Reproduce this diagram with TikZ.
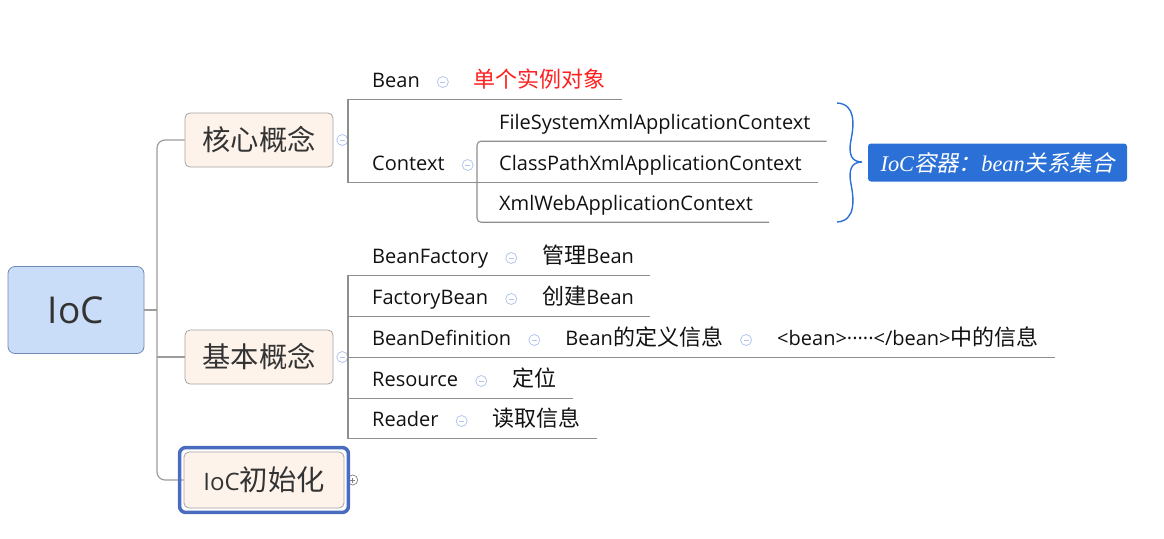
\documentclass[tikz,border=0pt]{standalone}
\usepackage{fontspec}
\setmainfont{Open Sans}
\newfontfamily\cjk[Scale=1.10]{Noto Sans CJK SC}
\newfontfamily\cjkbox[Scale=1.18]{Noto Sans CJK SC}
\newfontfamily\cjkslant[FakeSlant=0.2,Scale=1.12]{Noto Sans CJK SC}
\newfontfamily\notefont[Scale=1.12]{Liberation Serif}
\usetikzlibrary{positioning,calc}

\definecolor{rootfill}{HTML}{C9DCF8}
\definecolor{rootdraw}{HTML}{7089B5}
\definecolor{boxfill}{HTML}{FDF3EB}
\definecolor{boxdraw}{HTML}{A3A3A3}
\definecolor{selblue}{HTML}{4A6CC0}
\definecolor{linkgray}{HTML}{9C9C9C}
\definecolor{ulinegray}{HTML}{8E8E8E}
\definecolor{foldblue}{HTML}{B3C6EA}
\definecolor{noteblue}{HTML}{2B70D6}
\definecolor{boxtext}{HTML}{333333}
\definecolor{topictext}{HTML}{111111}
\definecolor{hotred}{HTML}{FF2020}

\newcommand{\zh}[1]{{\cjk #1}}
\newcommand{\zhb}[1]{{\cjkbox #1}}

\begin{document}
\begin{tikzpicture}[x=1pt, y=-1pt,
    link/.style={draw=linkgray, line width=1.2pt},
    uline/.style={draw=ulinegray, line width=1.1pt},
    rootbox/.style={draw=rootdraw, fill=rootfill, rounded corners=7pt, line width=0.8pt,
        minimum width=136pt, minimum height=87pt, text=boxtext, font=\fontsize{37}{42}\selectfont},
    mainbox/.style={draw=boxdraw, fill=boxfill, rounded corners=5pt, line width=0.8pt,
        minimum width=148pt, minimum height=54pt, text=boxtext, font=\fontsize{24}{28}\selectfont},
    topic/.style={anchor=west, inner sep=0pt, text height=14pt, text depth=4pt,
        text=topictext, font=\fontsize{20}{22}\selectfont},
    fold/.style={circle, draw=foldblue, line width=0.8pt, minimum size=11pt, inner sep=0pt,
        path picture={\draw[foldblue, line width=0.8pt]
            ([xshift=-2.5pt]path picture bounding box.center) -- ([xshift=2.5pt]path picture bounding box.center);}},
    unfold/.style={circle, draw=gray, line width=0.7pt, minimum size=10pt, inner sep=0pt,
        path picture={\draw[gray, line width=0.7pt]
            ([xshift=-2.5pt]path picture bounding box.center) -- ([xshift=2.5pt]path picture bounding box.center)
            ([yshift=-2.5pt]path picture bounding box.center) -- ([yshift=2.5pt]path picture bounding box.center);}},
    note/.style={fill=noteblue, rounded corners=3pt, minimum width=259pt, minimum height=38pt,
        text=white, font=\fontsize{20}{24}\selectfont}
]
    \useasboundingbox (0,0) rectangle (1164,538);

    % Root and main topics
    \node[rootbox] (root) at (76,310) {IoC};
    \node[mainbox] (kern) at (259,140) {\zhb{核心概念}};
    \node[mainbox] (base) at (259,357) {\zhb{基本概念}};
    \node[mainbox, minimum width=160pt, minimum height=56pt] (init) at (264,480) {IoC\zhb{初始化}};
    \node[fold, right=3pt of kern] (kernf) {};
    \node[fold, right=3pt of base] (basef) {};
    \node[unfold, right=3pt of init] (initf) {};

    % Spine
    \coordinate (hub) at (157,310);
    \draw[link] (root.east) -- (hub);
    \draw[link, rounded corners=8pt] (kern.west) -| (hub) |- (init.west);
    \draw[link] (hub |- base.west) -- (base.west);
    \draw[selblue, line width=3.5pt, rounded corners=6pt]
        ([shift={(-4,-4)}]init.north west) rectangle ([shift={(4,4)}]init.south east);

    % 核心概念 children
    \node[topic] (kbean) at (372,82) {Bean};
    \node[fold, right=17pt of kbean] (kbeanf) {};
    \node[topic, right=25pt of kbeanf, text=hotred] (kbeanv) {\zh{单个实例对象}};
    \node[topic] (kctx) at (372,165) {Context};
    \node[fold, right=17pt of kctx] (kctxf) {};

    % Context children
    \node[topic] (cfs) at (499,124) {FileSystemXmlApplicationContext};
    \node[topic] (ccp) at (499,165) {ClassPathXmlApplicationContext};
    \node[topic] (cxw) at (499,205) {XmlWebApplicationContext};

    \draw[uline] ($(kbeanv.south east)+(16,8)$) -- ($(kbean.south west)+(-24,8)$)
        -- ($(kctx.south west)+(-24,8)$) -- ($(ccp.south east)+(16,8)$);
    \draw[uline, rounded corners=4pt] ($(cfs.south east)+(16,8)$) -- ($(cfs.south west)+(-22,8)$)
        -- ($(cxw.south west)+(-22,8)$) -- ($(cxw.south east)+(16,8)$);

    % Brace and note
    \draw[noteblue, line width=1.4pt]
        (837,103) .. controls (856,104) and (854,125) .. (851,140)
        .. controls (848,155) and (852,162) .. (862,162)
        .. controls (852,162) and (848,169) .. (851,184)
        .. controls (854,199) and (856,221) .. (837,222);
    \node[note] (ioc) at (997.5,162.5)
        {{\notefont\itshape IoC}{\cjkslant 容器：}{\notefont\itshape bean}{\cjkslant 关系集合}};

    % 基本概念 children
    \node[topic] (bbf) at (372,258) {BeanFactory};
    \node[fold, right=17pt of bbf] (bbff) {};
    \node[topic, right=25pt of bbff] (bbfv) {\zh{管理}Bean};
    \node[topic] (bfb) at (372,299) {FactoryBean};
    \node[fold, right=17pt of bfb] (bfbf) {};
    \node[topic, right=25pt of bfbf] (bfbv) {\zh{创建}Bean};
    \node[topic] (bbd) at (372,340) {BeanDefinition};
    \node[fold, right=17pt of bbd] (bbdf) {};
    \node[topic, right=25pt of bbdf] (bbdv) {Bean\zh{的定义信息}};
    \node[fold, right=17pt of bbdv] (bbdvf) {};
    \node[topic, right=25pt of bbdvf] (bbdx) {<bean>·····</bean>\zh{中的信息}};
    \node[topic] (brs) at (372,381) {Resource};
    \node[fold, right=17pt of brs] (brsf) {};
    \node[topic, right=25pt of brsf] (brsv) {\zh{定位}};
    \node[topic] (brd) at (372,421) {Reader};
    \node[fold, right=17pt of brd] (brdf) {};
    \node[topic, right=25pt of brdf] (brdv) {\zh{读取信息}};

    \draw[uline] ($(bbfv.south east)+(16,8)$) -- ($(bbf.south west)+(-24,8)$)
        -- ($(brd.south west)+(-24,8)$) -- ($(brdv.south east)+(16,8)$);
    \foreach \a/\b in {bfb/bfbv, bbd/bbdx, brs/brsv}
        \draw[uline] ($(\a.south west)+(-24,8)$) -- ($(\b.south east)+(16,8)$);
\end{tikzpicture}
\end{document}
